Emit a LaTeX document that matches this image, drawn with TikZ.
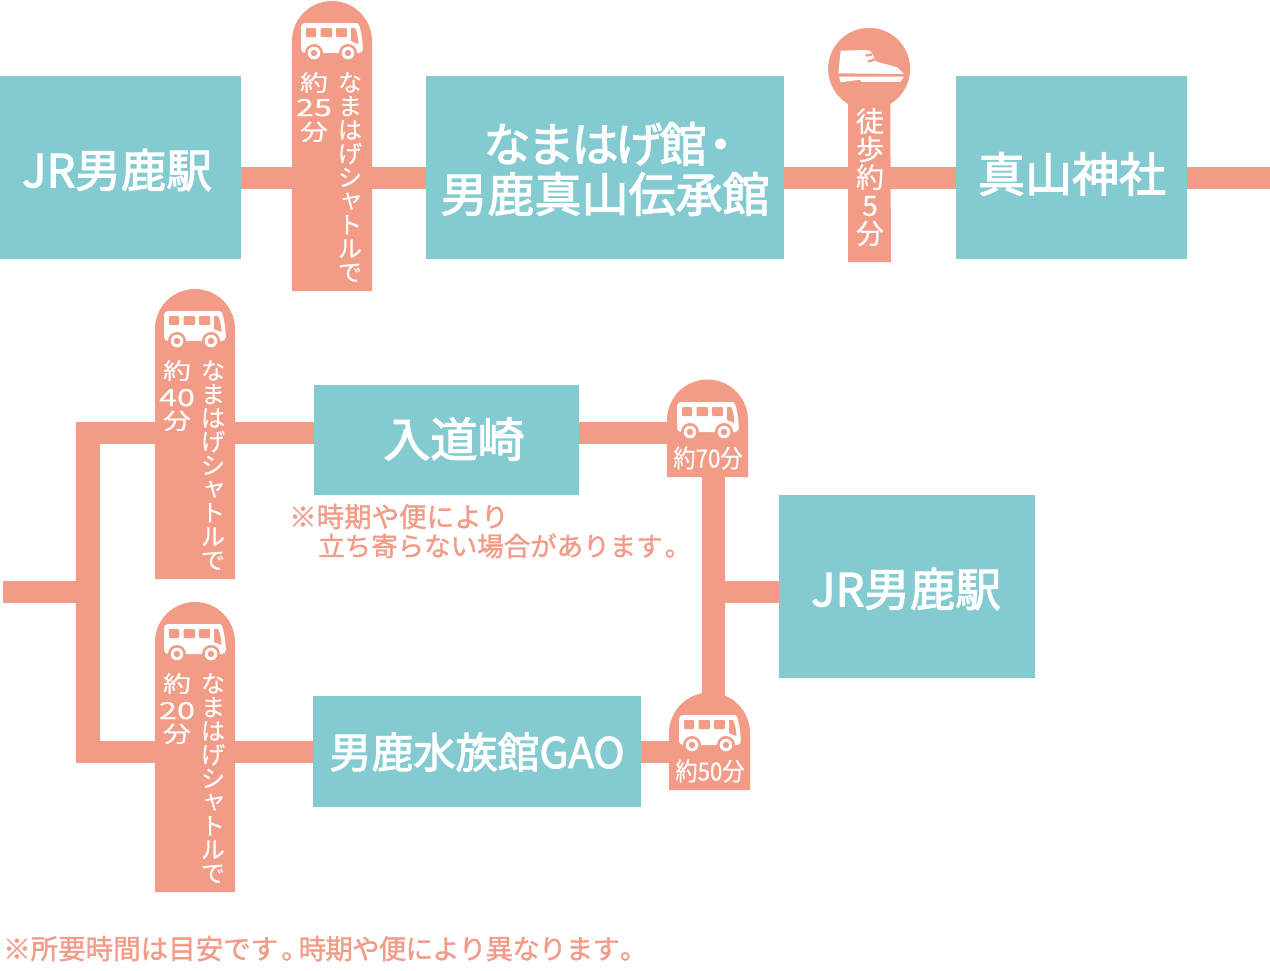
\documentclass[tikz,border=0pt]{standalone}
\usepackage{fontspec}
\setmainfont{Noto Sans CJK JP}
\newfontfamily\medfont[FakeBold=2.4]{Noto Sans CJK JP}
\newfontfamily\notefont[FakeBold=1.2]{Noto Sans CJK JP}
\newfontfamily\lightbold[FakeBold=0.3]{Noto Sans CJK JP}
\definecolor{salmon}{HTML}{F29B87}
\definecolor{teal2}{HTML}{83CBD1}
\tikzset{
  x=1pt,y=-1pt,
  link/.style={draw=salmon,line width=22pt},
  stationbox/.style={fill=teal2,inner sep=0,anchor=north west},
  boxtext/.style={text=white,inner sep=0,align=center,font=\medfont\fontsize{45.5}{50}\selectfont},
  pill/.style={fill=salmon},
  vtext/.style={text=white,inner sep=0,align=center,anchor=north,font=\lightbold\fontsize{24}{23.7}\selectfont},
  vtime/.style={text=white,inner sep=0,align=center,anchor=north,font=\lightbold\fontsize{25}{24}\selectfont},
  timetext/.style={text=white,inner sep=0,font=\lightbold\fontsize{24}{25}\selectfont},
  note/.style={text=salmon,inner sep=0,anchor=base west,font=\notefont\fontsize{27.5}{28}\selectfont},
  busicon/.pic={
    \fill[white,rounded corners=4pt] (0,0) -- (52,0) .. controls (58,0) and (61,8) .. (62,30) -- (0,30) -- cycle;
    \fill[salmon,rounded corners=1pt] (5,5) rectangle (15,14);
    \fill[salmon,rounded corners=1pt] (19.5,5) rectangle (31,14);
    \fill[salmon,rounded corners=1pt] (35,5) rectangle (46,14);
    \fill[salmon] (50,5) -- (54,5) .. controls (56,8) and (57,14) .. (57.5,21) -- (50,18) -- cycle;
    \foreach \wx in {13,47}{
      \fill[salmon] (\wx,30) circle (9);
      \fill[white] (\wx,30) circle (6.3);
      \fill[salmon] (\wx,30) circle (3.2);
    }
  }
}
\newcommand{\smallya}{\raisebox{2.5pt}{\hspace{2pt}ャ}}
\newcommand{\namaV}{な\\ま\\は\\げ\\シ\\\smallya\\ト\\ル\\で}
\newcommand{\wch}[1]{\scalebox{1.12}[0.9]{#1}}
\newcommand{\wdg}[1]{\scalebox{1.3}[0.95]{#1}}
\newcommand{\tk}{\kern-3pt }
\newcommand{\nk}{\kern-0.8pt }
\begin{document}
\begin{tikzpicture}
\useasboundingbox (0,0) rectangle (1270,970);
% boxes
\node[stationbox,minimum width=241,minimum height=183] (jra) at (0,76) {};
\node[stationbox,minimum width=358,minimum height=183] (nama) at (426,76) {};
\node[stationbox,minimum width=231,minimum height=183] (shin) at (956,76) {};
\node[stationbox,minimum width=264.5,minimum height=110] (nyu) at (314,385) {};
\node[stationbox,minimum width=327.5,minimum height=111] (gao) at (313,696) {};
\node[stationbox,minimum width=256,minimum height=183] (jrb) at (779,495) {};
% helper points
\coordinate (topy) at (0,178);
\coordinate (edgeR) at (1270,178);
\coordinate (upy) at (0,433);
\coordinate (lowy) at (0,752);
\coordinate (midy) at (0,592);
\coordinate (stubL) at (3,592);
\coordinate (leftTop) at (88,422);
\coordinate (leftBot) at (88,763);
\coordinate (leftUp) at (88,433);
\coordinate (leftLow) at (88,752);
\coordinate (leftMid) at (88,592);
\coordinate (rightUp) at (680,433);
\coordinate (rightLow) at (680,752);
\coordinate (rightTop) at (713.5,470);
\coordinate (rightBot) at (713.5,700);
\coordinate (rightMid) at (713.5,592);
% connectors
\draw[link] (jra.east |- topy) -- (nama.west |- topy);
\draw[link] (nama.east |- topy) -- (shin.west |- topy);
\draw[link] (shin.east |- topy) -- (edgeR);
\draw[link] (stubL) -- (leftMid);
\draw[link,line width=24pt] (leftTop) -- (leftBot);
\draw[link] (leftUp) -- (nyu.west |- upy);
\draw[link] (leftLow) -- (gao.west |- lowy);
\draw[link] (nyu.east |- upy) -- (rightUp);
\draw[link] (gao.east |- lowy) -- (rightLow);
\draw[link,line width=23pt] (rightTop) -- (rightBot);
\draw[link] (rightMid) -- (jrb.west |- midy);
% pills
\fill[pill] (292,291) -- (292,41) arc[start angle=180,end angle=360,radius=40] -- (372,291) -- cycle;
\fill[pill] (155,579) -- (155,329) arc[start angle=180,end angle=360,radius=40] -- (235,579) -- cycle;
\fill[pill] (155,892) -- (155,642) arc[start angle=180,end angle=360,radius=40] -- (235,892) -- cycle;
\fill[pill] (667,477) -- (667,420) arc[start angle=180,end angle=360,radius=40.5] -- (748,477) -- cycle;
\fill[pill] (669,790) -- (669,733) arc[start angle=180,end angle=360,radius=40.5] -- (750,790) -- cycle;
\fill[pill] (848,262) -- (848,104) arc[start angle=121,end angle=419,radius=41] -- (891,262) -- cycle;
% icons
\pic at (301,23) {busicon};
\pic at (164,311) {busicon};
\pic at (164,624) {busicon};
\pic at (677,402) {busicon};
\pic at (679,715) {busicon};
\begin{scope}[shift={(810,20)},x=0.3333pt,y=-0.3333pt]
\fill[white] (92,92) -- (165,90) -- (180,92) -- (186,100) -- (200,125) -- (262,142) -- (282,162) -- (85,160) -- cycle;
\fill[salmon] (165,104) -- (185,100) -- (187,107) -- (168,110) -- cycle;
\fill[salmon] (172,122) -- (195,114) -- (198,121) -- (176,128) -- cycle;
\fill[white] (87,170) -- (282,170) -- (270,186) -- (155,186) -- (150,179) -- (92,187) -- cycle;
\end{scope}
% texts in boxes
\node[boxtext] (t1) at (117,170) {JR男鹿駅};
\node[boxtext,font=\medfont\fontsize{47}{50}\selectfont] (t2) at (605,169) {な\tk ま\tk は\tk げ\tk 館\kern-9.5pt・\kern-17.5pt\\男鹿真山伝承館};
\node[boxtext,font=\medfont\fontsize{47}{50}\selectfont] (t3) at (1072,174) {真山神社};
\node[boxtext,font=\medfont\fontsize{47}{50}\selectfont] (t4) at (454,439) {入道崎};
\node[boxtext,font=\medfont\fontsize{42}{50}\selectfont] (t5) at (477,752) {男鹿水族館GAO};
\node[boxtext] (t6) at (906,589) {JR男鹿駅};
% vertical texts
\node[vtext] (v1) at (350,72) {\namaV};
\node[vtime] (w1) at (314,72) {\wch{約}\\[1pt]\wdg{25}\\\wch{分}};
\node[vtext] (v2) at (213,360) {\namaV};
\node[vtime] (w2) at (177,360) {\wch{約}\\[3pt]\wdg{40}\\[-1pt]\wch{分}};
\node[vtext] (v3) at (213,673) {\namaV};
\node[vtime] (w3) at (177,673) {\wch{約}\\[3pt]\wdg{20}\\[-1pt]\wch{分}};
\node[vtext,font=\lightbold\fontsize{28}{28}\selectfont] (v4) at (870,108) {徒\\歩\\約\\5\\分};
\node[timetext] (s1) at (708,458) {\scalebox{0.93}[1.05]{約70分}};
\node[timetext] (s2) at (710,771) {\scalebox{0.93}[1.05]{約50分}};
% notes
\node[note] (n1) at (289,527) {※時期や便により};
\node[note,font=\notefont\fontsize{26.5}{28}\selectfont] (n2) at (318,556) {立ち寄らない場合があります\kern2pt 。};
\node[note] (n3) at (3,959) {※所要時間は目安です\kern3pt 。\kern-10pt 時\nk 期\nk や\nk 便\nk に\nk よ\nk り\nk 異\nk な\nk り\nk ま\nk す\kern0pt 。};
\end{tikzpicture}
\end{document}
